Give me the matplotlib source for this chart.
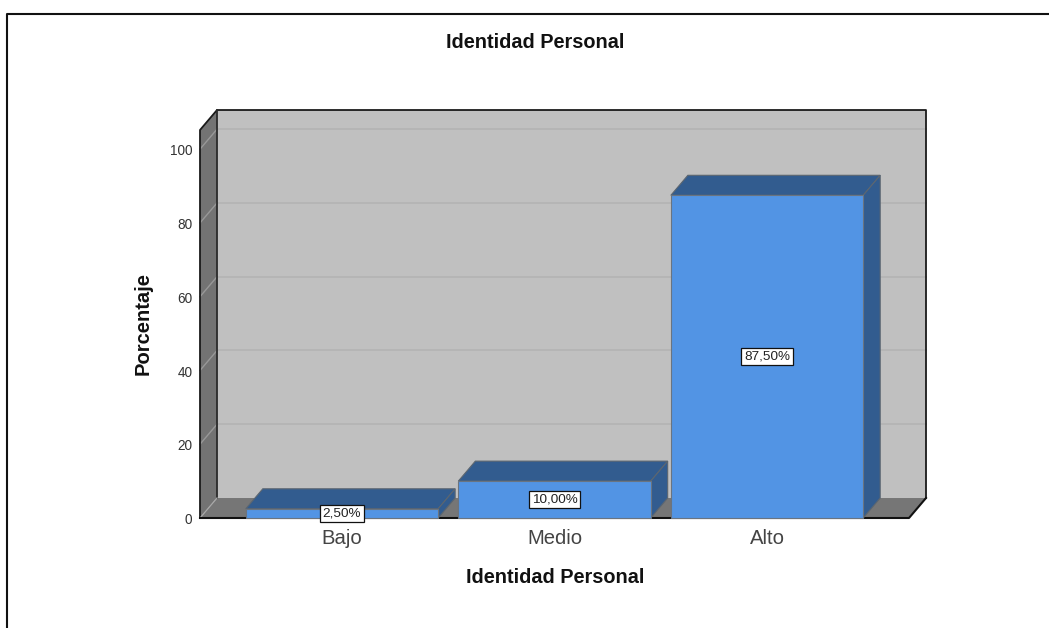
import matplotlib
matplotlib.use('Agg')
import matplotlib.pyplot as plt
from matplotlib.patches import Polygon
from matplotlib.lines import Line2D

categories = ['Bajo', 'Medio', 'Alto']
percentages = [2.5, 10.0, 87.5]
bar_labels = ['2,50%', '10,00%', '87,50%']
y_ticks = [0, 20, 40, 60, 80, 100]

plt.rcParams['font.family'] = ['Liberation Sans', 'DejaVu Sans']

W, H = 1049, 628
fig = plt.figure(figsize=(W / 100, H / 100), dpi=100)

# front plane of the 3d box, in pixels
left, right, top, bottom = 200, 909, 130, 518
ax = fig.add_axes([left / W, 1 - bottom / H, (right - left) / W, (bottom - top) / H])
ax.set_xlim(-0.668, 2.668)
ax.set_ylim(0, 105.2)
ax.axis('off')

# depth of the box in data units
dx = 17 / 212.5
dy = 20 / 3.69
x0, x1 = ax.get_xlim()
ymax = ax.get_ylim()[1]
edge = '#1a1a1a'

# walls, no outline on the floor or the bottom of the back wall
ax.add_patch(Polygon([(x0 + dx, dy), (x1 + dx, dy), (x1 + dx, ymax + dy), (x0 + dx, ymax + dy)],
                     fc='#c0c0c0', ec='none', clip_on=False, zorder=1))
ax.add_patch(Polygon([(x0, 0), (x0 + dx, dy), (x0 + dx, ymax + dy), (x0, ymax)],
                     fc='#737373', ec='none', clip_on=False, zorder=1))
ax.add_patch(Polygon([(x0, 0), (x1, 0), (x1 + dx, dy), (x0 + dx, dy)],
                     fc='#767676', ec='none', clip_on=False, zorder=1))

# gridlines run along the side wall and the back wall
for t in y_ticks[1:]:
    ax.plot([x0, x0 + dx], [t, t + dy], color='#989898', lw=1.0, clip_on=False, zorder=2)
    ax.plot([x0 + dx, x1 + dx], [t + dy, t + dy], color='#b2b2b2', lw=1.1, clip_on=False, zorder=2)

# box outline
ax.plot([x0, x0, x0 + dx, x1 + dx, x1 + dx], [0, ymax, ymax + dy, ymax + dy, dy],
        color=edge, lw=1.3, clip_on=False, zorder=3)
ax.plot([x0 + dx, x0 + dx], [dy, ymax + dy], color='#2a2a2a', lw=1.3, clip_on=False, zorder=3)
ax.plot([x0, x0 + dx], [0, dy], color='#a8a8a8', lw=0.9, clip_on=False, zorder=3)
ax.plot([x0, x1, x1 + dx], [0, 0, dy], color='#111111', lw=1.5, clip_on=False, zorder=3)

# bars
w = 0.905
for i, v in enumerate(percentages):
    l, r = i - w / 2, i + w / 2
    ax.bar(i, v, width=w, color='#5294e4', edgecolor='#6a7480', lw=0.8, clip_on=False, zorder=5)
    ax.add_patch(Polygon([(l, v), (r, v), (r + dx, v + dy), (l + dx, v + dy)],
                         fc='#325c8f', ec='#5c6670', lw=0.8, clip_on=False, zorder=4))
    ax.add_patch(Polygon([(r, 0), (r + dx, dy), (r + dx, v + dy), (r, v)],
                         fc='#325c8f', ec='#5c6670', lw=0.8, clip_on=False, zorder=4))
    ax.text(i, v / 2, bar_labels[i], ha='center', va='center', fontsize=9.7, color='#222222', zorder=6,
            bbox=dict(boxstyle='square,pad=0.2', fc='white', ec='#111111', lw=0.9))
    ax.text(i, -5.6, categories[i], ha='center', va='center', fontsize=14.6, color='#444444', clip_on=False)

for t in y_ticks:
    ax.text(x0 - 0.036, t - 0.6, str(t), ha='right', va='center', fontsize=9.8, color='#333333', clip_on=False)

# text
fig.text(535.5 / W, 1 - 42 / H, 'Identidad Personal', ha='center', va='center', fontsize=14.3, fontweight='bold', color='#111111')
fig.text(555 / W, 1 - 577.5 / H, 'Identidad Personal', ha='center', va='center', fontsize=14.3, fontweight='bold', color='#111111')
fig.text(143.5 / W, 1 - 323.5 / H, 'Porcentaje', ha='center', va='center', rotation=90, fontsize=14.5, fontweight='bold', color='#111111')

# outer frame, only top and left are in the picture
fig.add_artist(Line2D([6.5 / W, 6.5 / W, 1], [0, 1 - 13.5 / H, 1 - 13.5 / H], color='#111111', lw=1.5))

fig.savefig('out.png', dpi=100)
